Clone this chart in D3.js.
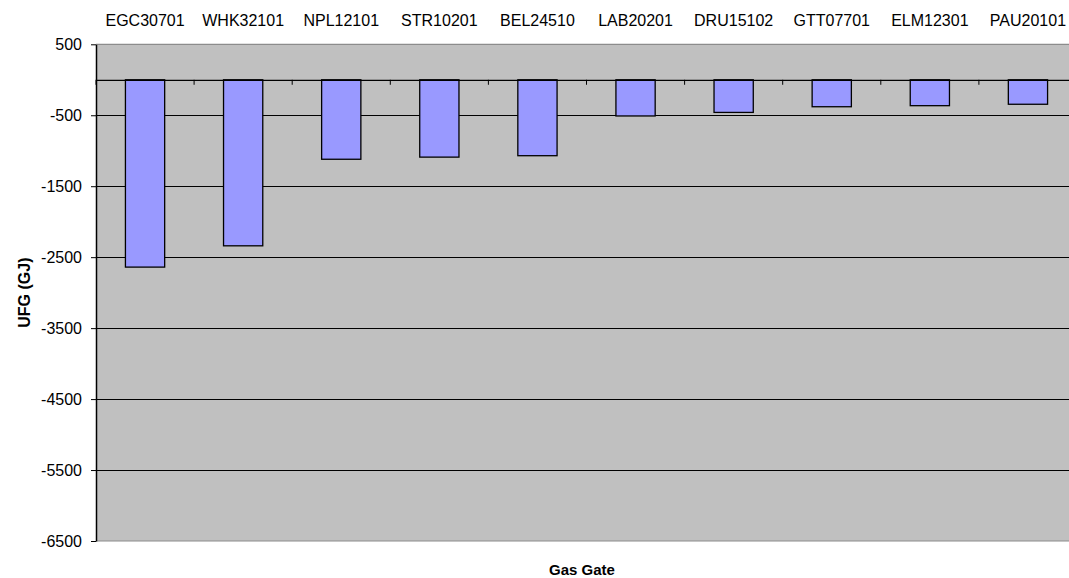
<!DOCTYPE html>
<html>
<head>
<meta charset="utf-8">
<script src="https://cdn.jsdelivr.net/npm/d3@7"></script>
<style>
  html, body { margin: 0; padding: 0; background: #fff; }
  svg { display: block; font-family: "Liberation Sans", Arial, sans-serif; }
</style>
</head>
<body>
<svg id="chart" width="1069" height="578"></svg>
<script>
const categories = ["EGC30701", "WHK32101", "NPL12101", "STR10201", "BEL24510",
                    "LAB20201", "DRU15102", "GTT07701", "ELM12301", "PAU20101"];
const ufgValues = [-2640, -2340, -1120, -1090, -1070, -510, -460, -380, -365, -345];
const yTickValues = [500, -500, -1500, -2500, -3500, -4500, -5500, -6500];
const yTitle = "UFG (GJ)";
const xTitle = "Gas Gate";

const svg = d3.select("#chart");
const plot = { left: 96, right: 1077, top: 44.3, bottom: 541 };

const x = d3.scaleBand().domain(categories).range([plot.left, plot.right]).padding(0);
const y = d3.scaleLinear().domain([-6500, 500]).range([plot.bottom, plot.top]);

// background
svg.append("rect")
  .attr("x", plot.left).attr("y", plot.top)
  .attr("width", plot.right - plot.left).attr("height", plot.bottom - plot.top)
  .attr("fill", "#c0c0c0");

// gridlines
svg.append("g").selectAll("line")
  .data(yTickValues.filter(v => v !== 500 && v !== -6500))
  .join("line")
  .attr("x1", plot.left).attr("x2", plot.right)
  .attr("y1", d => Math.round(y(d)) + 0.5).attr("y2", d => Math.round(y(d)) + 0.5)
  .attr("stroke", "#000").attr("stroke-width", 1);

// border top/bottom
[500, -6500].forEach(v => {
  svg.append("line")
    .attr("x1", plot.left).attr("x2", plot.right)
    .attr("y1", y(v)).attr("y2", y(v))
    .attr("stroke", "#8c8c8c").attr("stroke-width", 1.2);
});

// bars
const barW = x.bandwidth() * 0.4;
svg.append("g").selectAll("rect")
  .data(categories.map((c, i) => ({ c, v: ufgValues[i] })))
  .join("rect")
  .attr("x", d => x(d.c) + (x.bandwidth() - barW) / 2)
  .attr("y", d => y(Math.max(0, d.v)))
  .attr("width", barW)
  .attr("height", d => Math.abs(y(d.v) - y(0)))
  .attr("fill", "#9999ff")
  .attr("stroke", "#000").attr("stroke-width", 1.3);

// zero axis line with category ticks
const xAxis = d3.axisBottom(x).tickSize(5).tickFormat("").tickSizeOuter(0);
const xg = svg.append("g").attr("transform", `translate(0,${y(0)})`).call(xAxis);
xg.select(".domain").attr("stroke", "#000").attr("stroke-width", 1.3);
xg.selectAll(".tick").attr("transform", d => `translate(${x(d)},0)`);
xg.selectAll(".tick line").attr("stroke", "#000").attr("stroke-width", 1);

// category labels on top
svg.append("g").selectAll("text")
  .data(categories)
  .join("text")
  .attr("x", d => x(d) + x.bandwidth() / 2)
  .attr("y", 26)
  .attr("text-anchor", "middle")
  .attr("font-size", 16)
  .attr("fill", "#000")
  .text(d => d);

// y axis
const yAxis = d3.axisLeft(y).tickValues(yTickValues).tickSize(5).tickSizeOuter(0)
  .tickPadding(9).tickFormat(d => String(d));
const yg = svg.append("g").attr("transform", `translate(${plot.left},0)`).call(yAxis);
yg.attr("font-family", null).attr("font-size", null);
yg.select(".domain").attr("stroke", "#000").attr("stroke-width", 1.5);
yg.selectAll(".tick line").attr("stroke", "#000");
yg.selectAll(".tick text").attr("font-size", 16).attr("fill", "#000");

// titles
svg.append("text")
  .attr("transform", `translate(30,${(plot.top + plot.bottom) / 2}) rotate(-90)`)
  .attr("text-anchor", "middle")
  .attr("font-size", 16).attr("font-weight", "bold")
  .text(yTitle);

svg.append("text")
  .attr("x", 582).attr("y", 575)
  .attr("text-anchor", "middle")
  .attr("font-size", 15).attr("font-weight", "bold")
  .text(xTitle);
</script>
</body>
</html>
